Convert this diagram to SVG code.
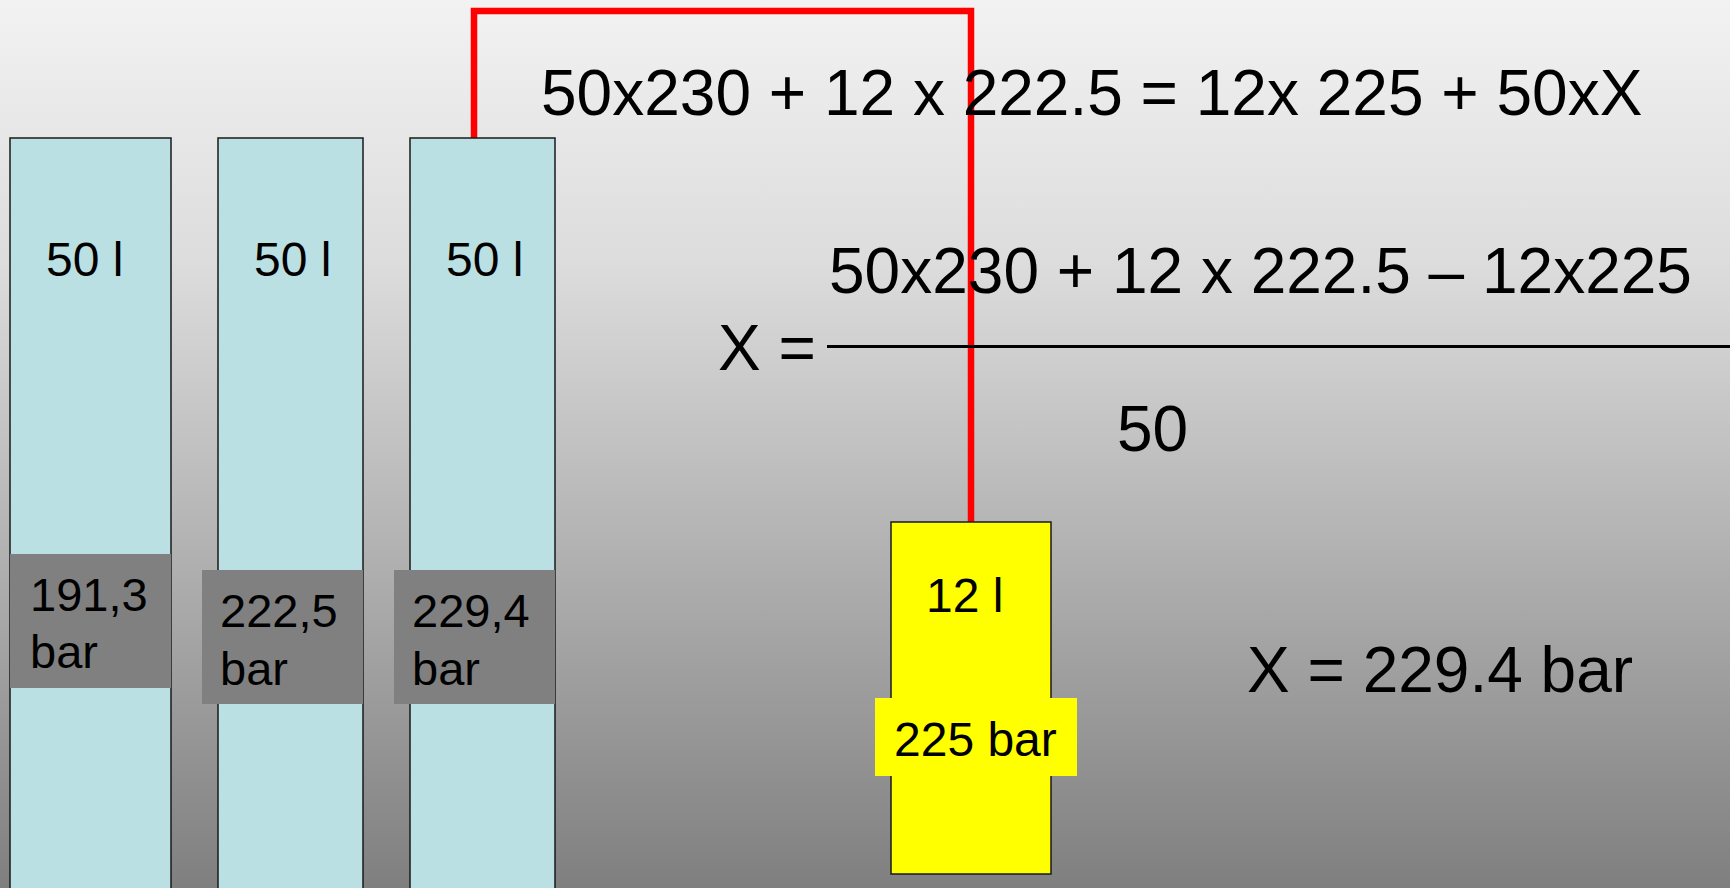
<svg xmlns="http://www.w3.org/2000/svg" width="1730" height="888" viewBox="0 0 1730 888">
<defs>
<linearGradient id="bg" x1="0" y1="0" x2="0" y2="1">
<stop offset="0" stop-color="#f2f2f2"/>
<stop offset="0.3" stop-color="#dcdcdc"/>
<stop offset="1" stop-color="#7f7f7f"/>
</linearGradient>
<style>
text{font-family:"Liberation Sans",Arial,sans-serif;fill:#000}
.cyl{fill:#bae0e3;stroke:#1a1a1a;stroke-width:1.5}
.gl{fill:#808080}
.yel{fill:#ffff00}
.pipe{fill:none;stroke:#ff0000;stroke-width:6.5}
.t48{font-size:48px}
.t46{font-size:47px}
.t64{font-size:64px}
</style>
</defs>
<rect x="0" y="0" width="1730" height="888" fill="url(#bg)"/>
<g id="connectors">
<polyline class="pipe" points="474,138 474,11 971,11 971,522"/>
</g>
<g id="cyl1">
<rect class="cyl" x="10" y="138" width="161" height="760"/>
<text class="t48" x="46" y="276">50 l</text>
<rect class="gl" x="10" y="554" width="161" height="134"/>
<text class="t46" x="30" y="611">191,3</text>
<text class="t46" x="30" y="668">bar</text>
</g>
<g id="cyl2">
<rect class="cyl" x="218" y="138" width="145" height="760"/>
<text class="t48" x="254" y="276">50 l</text>
<rect class="gl" x="202" y="570" width="161" height="134"/>
<text class="t46" x="220" y="627">222,5</text>
<text class="t46" x="220" y="685">bar</text>
</g>
<g id="cyl3">
<rect class="cyl" x="410" y="138" width="145" height="760"/>
<text class="t48" x="446" y="276">50 l</text>
<rect class="gl" x="394" y="570" width="161" height="134"/>
<text class="t46" x="412" y="627">229,4</text>
<text class="t46" x="412" y="685">bar</text>
</g>
<g id="cyl4">
<rect class="yel" x="891" y="522" width="160" height="352" stroke="#1a1a1a" stroke-width="1.5"/>
<text class="t48" x="926" y="612">12 l</text>
<rect class="yel" x="875" y="698" width="202" height="78"/>
<text class="t48" x="894" y="756">225 bar</text>
</g>
<g id="equations">
<text class="t64" x="541" y="115">50x230 + 12 x 222.5 = 12x 225 + 50xX</text>
<text class="t64" x="829" y="293">50x230 + 12 x 222.5 – 12x225</text>
<text class="t64" x="718" y="370">X =</text>
<line x1="827" y1="346.5" x2="1730" y2="346.5" stroke="#000" stroke-width="3"/>
<text class="t64" x="1117" y="451">50</text>
<text class="t64" x="1247" y="692">X = 229.4 bar</text>
</g>
</svg>
